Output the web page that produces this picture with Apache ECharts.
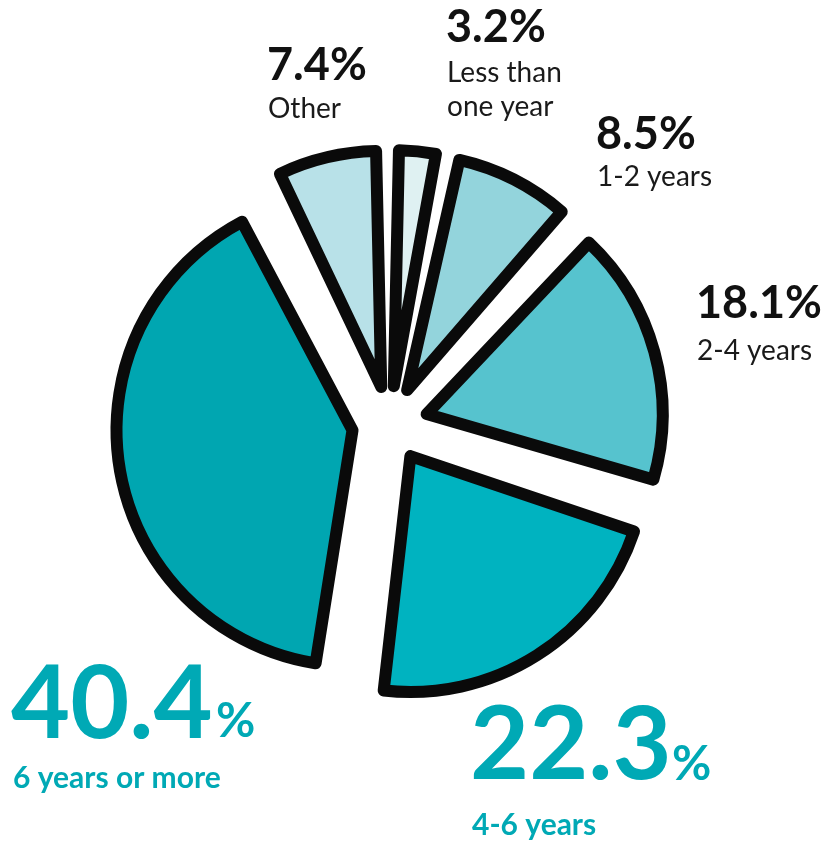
<!DOCTYPE html>
<html>
<head>
<meta charset="utf-8">
<script src="https://cdn.jsdelivr.net/npm/echarts@6/dist/echarts.min.js"></script>
<style>
  html, body { margin: 0; padding: 0; background: #ffffff; }
  #chart { width: 828px; height: 844px; }
</style>
</head>
<body>
<div id="chart"></div>
<script>
// Tenure breakdown, clockwise from 12 o'clock
const categories = ['Less than one year', '1-2 years', '2-4 years', '4-6 years', '6 years or more', 'Other'];
const shares = [3.2, 8.5, 18.1, 22.3, 40.4, 7.4];
const sliceColors = ['#dff1f2', '#93d4dc', '#56c3ce', '#00b3c0', '#00a6b1', '#b8e1e8'];
// Label text lines (the category names split for display)
const labelLines = [['Less than', 'one year'], ['1-2 years'], ['2-4 years'], ['4-6 years'], ['6 years or more'], ['Other']];

const teal = '#00a9b5';
const chart = echarts.init(document.getElementById('chart'), null, { renderer: 'canvas' });

const pct = v => v.toFixed(1) + '%';
const num = v => v.toFixed(1);

// Text is placed by its baseline; ECharts positions the top of the line box
const BASE = 0.88;
function textAt(str, x, baseline, size, weight, fill) {
  return {
    type: 'text', x: x, y: baseline - BASE * size,
    style: { text: str, x: 0, y: 0, fill: fill, font: weight + ' ' + size + 'px Lato', verticalAlign: 'top' }
  };
}

// Small black callouts: [index, x, value baseline, first line baseline, line step]
const smallLabels = [
  [0, 446, 45, 84, 34],
  [1, 596, 152, 188, 34],
  [2, 696, 321, 362, 34],
  [5, 267, 83, 120, 34]
];

const graphics = [];
smallLabels.forEach(([i, x, yv, y1, step]) => {
  graphics.push(textAt(pct(shares[i]), x, yv, 45, 'bold', '#111111'));
  labelLines[i].forEach((line, k) => {
    graphics.push(textAt(line, x + 1, y1 + k * step, 28, 'normal', '#1a1a1a'));
  });
});

// Large teal callouts: [index, x, number baseline, % x, % baseline, name baseline]
const bigLabels = [
  [4, 11, 744, 216, 740, 790],
  [3, 470, 785, 672, 783, 837]
];
bigLabels.forEach(([i, x, yb, px, pb, yn]) => {
  graphics.push(textAt(num(shares[i]), x, yb, 102, 'bold', teal));
  graphics.push(textAt('%', px, pb, 48, 'bold', teal));
  graphics.push(textAt(labelLines[i][0], x + 2, yn, 30, 'bold', teal));
});

chart.setOption({
  animation: false,
  backgroundColor: '#ffffff',
  graphic: graphics,
  series: [{
    type: 'pie',
    center: [390, 424],
    radius: [0, 236],
    startAngle: 90,
    clockwise: true,
    padAngle: 2.5,
    selectedMode: 'multiple',
    selectedOffset: 38,
    label: { show: false },
    labelLine: { show: false },
    emphasis: { disabled: true },
    itemStyle: { borderColor: '#0a0a0a', borderWidth: 12, borderJoin: 'round' },
    data: categories.map((name, i) => ({
      name: name,
      value: shares[i],
      selected: true,
      itemStyle: { color: sliceColors[i] }
    }))
  }]
});
</script>
</body>
</html>
